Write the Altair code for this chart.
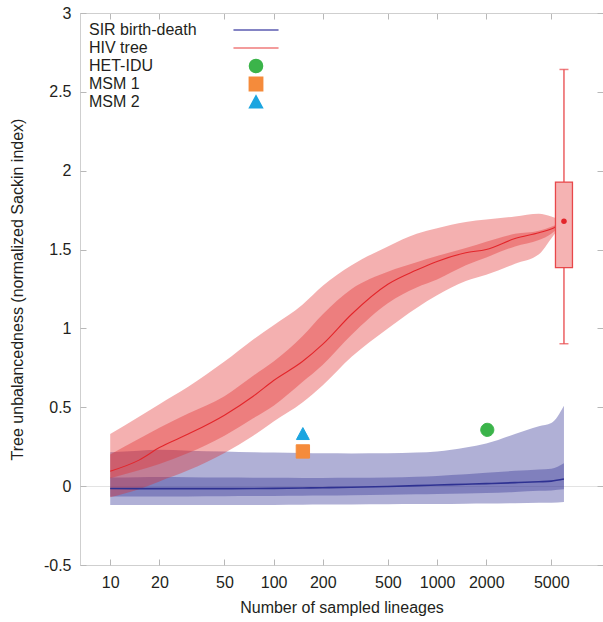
import altair as alt
import pandas as pd

# ---------------- data ----------------
lineages = [10, 15, 20, 30, 50, 75, 100, 150, 200, 300, 500, 750, 1000, 1500, 2000, 3000, 4200, 5000, 5980]

hiv_med = [0.095, 0.165, 0.245, 0.33, 0.45, 0.57, 0.67, 0.79, 0.90, 1.09, 1.28, 1.37, 1.425, 1.48, 1.50, 1.57, 1.607, 1.63, 1.68]
hiv_in_hi = [0.20, 0.30, 0.37, 0.46, 0.57, 0.70, 0.79, 0.95, 1.09, 1.25, 1.36, 1.42, 1.46, 1.51, 1.55, 1.60, 1.62, 1.645, 1.68]
hiv_in_lo = [0.05, 0.10, 0.14, 0.21, 0.32, 0.43, 0.51, 0.66, 0.77, 0.96, 1.16, 1.26, 1.31, 1.40, 1.45, 1.52, 1.56, 1.60, 1.68]
hiv_out_hi = [0.33, 0.44, 0.52, 0.63, 0.79, 0.93, 1.02, 1.15, 1.27, 1.40, 1.52, 1.60, 1.635, 1.675, 1.69, 1.71, 1.727, 1.71, 1.68]
hiv_out_lo = [-0.07, -0.02, 0.03, 0.10, 0.21, 0.32, 0.41, 0.53, 0.64, 0.82, 1.00, 1.13, 1.21, 1.30, 1.34, 1.41, 1.47, 1.57, 1.68]

sir_med = [-0.015, -0.016, -0.016, -0.016, -0.016, -0.015, -0.014, -0.012, -0.01, -0.007, -0.002, 0.003, 0.007, 0.012, 0.016, 0.022, 0.028, 0.032, 0.045]
sir_in_hi = [0.055, 0.057, 0.058, 0.057, 0.055, 0.054, 0.053, 0.052, 0.052, 0.053, 0.055, 0.06, 0.065, 0.075, 0.085, 0.097, 0.105, 0.11, 0.145]
sir_in_lo = [-0.065, -0.065, -0.065, -0.065, -0.064, -0.063, -0.062, -0.061, -0.06, -0.058, -0.055, -0.052, -0.05, -0.046, -0.043, -0.037, -0.03, -0.027, -0.02]
sir_out_hi = [0.215, 0.225, 0.23, 0.225, 0.22, 0.215, 0.213, 0.21, 0.208, 0.207, 0.208, 0.213, 0.22, 0.245, 0.27, 0.33, 0.38, 0.40, 0.51]
sir_out_lo = [-0.12, -0.12, -0.12, -0.12, -0.12, -0.12, -0.119, -0.118, -0.117, -0.116, -0.115, -0.114, -0.113, -0.111, -0.11, -0.108, -0.106, -0.105, -0.10]

box_n = [5980]
box_q1 = [1.385]
box_q3 = [1.928]
box_lo = [0.903]
box_hi = [2.642]
box_med = [1.68]

point_names = ["HET-IDU", "MSM 1", "MSM 2"]
point_n = [2030, 151, 151]
point_val = [0.357, 0.22, 0.332]

legend_names = ["SIR birth-death", "HIV tree", "HET-IDU", "MSM 1", "MSM 2"]
legend_fill = ["transparent", "transparent", "#3bb44a", "#f58b3b", "#1ca5e0"]
legend_stroke = ["#5b5bb0", "#ef7b7b", "#3bb44a", "#f58b3b", "#1ca5e0"]
# symbol outlines in Vega's unit symbol frame (scaled by sqrt(size)/2)
LINE_SYM = "M-0.98,0L0.98,0"
CIRCLE_SYM = "M0.285,0A0.285,0.285,0,1,1,-0.285,0A0.285,0.285,0,1,1,0.285,0Z"
SQUARE_SYM = "M-0.29,-0.29L0.29,-0.29L0.29,0.29L-0.29,0.29Z"
TRIANGLE_SYM = "M0,-0.27L-0.28,0.25L0.28,0.25Z"
legend_shape = [LINE_SYM, LINE_SYM, CIRCLE_SYM, SQUARE_SYM, TRIANGLE_SYM]

x_ticks = [10, 20, 50, 100, 200, 500, 1000, 2000, 5000]
y_ticks = [-0.5, 0, 0.5, 1, 1.5, 2, 2.5, 3]

# ---------------- tables ----------------
series = pd.DataFrame({
    "n": lineages,
    "hiv_med": hiv_med, "hiv_in_hi": hiv_in_hi, "hiv_in_lo": hiv_in_lo,
    "hiv_out_hi": hiv_out_hi, "hiv_out_lo": hiv_out_lo,
    "sir_med": sir_med, "sir_in_hi": sir_in_hi, "sir_in_lo": sir_in_lo,
    "sir_out_hi": sir_out_hi, "sir_out_lo": sir_out_lo,
})
box_df = pd.DataFrame({"n": box_n, "q1": box_q1, "q3": box_q3, "lo": box_lo, "hi": box_hi, "med": box_med})
pts_df = pd.DataFrame({"series": point_names, "n": point_n, "v": point_val})

# ---------------- styling ----------------
W, H = 523, 552
FONT = "Liberation Sans"
TXT = "#231f20"
TICK = "#b8b8b8"
FRAME = "#cfcfcf"
RED = "#e12a2a"
BLUE = "#393998"
RED_LINE = "#e3262b"
BLUE_LINE = "#2e3192"
BOX_STROKE = "#e8474a"
SYM_SIZE = 2116

xscale = alt.Scale(type="log", domain=[7.01, 9660], nice=False)
yscale = alt.Scale(domain=[-0.5, 3], nice=False, zero=False)

ax_bottom = alt.Axis(orient="bottom", values=x_ticks, format="d", ticks=False, tickSize=0,
                     domain=True, domainColor=FRAME, labelPadding=9, labelFontSize=16,
                     labelColor=TXT, labelFont=FONT, title="Number of sampled lineages",
                     titleFontSize=16, titleFontWeight="normal", titleColor=TXT, titleFont=FONT,
                     titlePadding=9, grid=False)
ax_bottom_in = alt.Axis(orient="top", offset=-H, values=x_ticks, labels=False, domain=False,
                        ticks=True, tickSize=6, tickColor=TICK, title=None, grid=False)
ax_top_in = alt.Axis(orient="bottom", offset=-H, values=x_ticks, labels=False, domain=True,
                     domainColor=FRAME, ticks=True, tickSize=6, tickColor=TICK, title=None, grid=False)

ax_left = alt.Axis(orient="left", values=y_ticks, labelExpr="toString(datum.value)", ticks=False,
                   tickSize=0, domain=True, domainColor=FRAME, labelPadding=9, labelFontSize=16,
                   labelColor=TXT, labelFont=FONT,
                   title="Tree unbalancedness (normalized Sackin index)", titleFontSize=16,
                   titleFontWeight="normal", titleColor=TXT, titleFont=FONT, titlePadding=18,
                   grid=True,
                   gridColor={"condition": {"test": "datum.value === 0", "value": "#e3e3e3"},
                              "value": "transparent"})
ax_left_in = alt.Axis(orient="right", offset=-W, values=y_ticks, labels=False, domain=False,
                      ticks=True, tickSize=6, tickColor=TICK, title=None, grid=False)
ax_right_in = alt.Axis(orient="left", offset=-W, values=y_ticks, labels=False, domain=True,
                       domainColor=FRAME, ticks=True, tickSize=6, tickColor=TICK, title=None, grid=False)

base = alt.Chart(series)

def xenc(axis=None):
    if axis is None:
        return alt.X("n:Q", scale=xscale, axis=None)
    return alt.X("n:Q", scale=xscale, axis=axis)

blue_out = base.mark_area(color=BLUE, opacity=0.4, interpolate="monotone").encode(
    x=xenc(ax_bottom), y=alt.Y("sir_out_lo:Q", scale=yscale, axis=ax_left), y2="sir_out_hi:Q")
blue_in = base.mark_area(color=BLUE, opacity=0.4, interpolate="monotone").encode(
    x=xenc(ax_bottom_in), y=alt.Y("sir_in_lo:Q", scale=yscale, axis=ax_left_in), y2="sir_in_hi:Q")
red_out = base.mark_area(color=RED, opacity=0.37, interpolate="monotone").encode(
    x=xenc(ax_top_in), y=alt.Y("hiv_out_lo:Q", scale=yscale, axis=ax_right_in), y2="hiv_out_hi:Q")
red_in = base.mark_area(color=RED, opacity=0.37, interpolate="monotone").encode(
    x=xenc(), y=alt.Y("hiv_in_lo:Q", scale=yscale, axis=None), y2="hiv_in_hi:Q")
sir_line = base.mark_line(color=BLUE_LINE, strokeWidth=1.6, interpolate="monotone").encode(
    x=xenc(), y=alt.Y("sir_med:Q", scale=yscale, axis=None))
hiv_line = base.mark_line(color=RED_LINE, strokeWidth=1.1, interpolate="monotone").encode(
    x=xenc(), y=alt.Y("hiv_med:Q", scale=yscale, axis=None))

bx = alt.Chart(box_df)
whisker = bx.mark_rule(color=BOX_STROKE, strokeWidth=1.3).encode(
    x=xenc(), y=alt.Y("lo:Q", scale=yscale, axis=None), y2="hi:Q")
box = bx.mark_bar(size=17, fill="#f5b3b3", stroke=BOX_STROKE, strokeWidth=1.3).encode(
    x=xenc(), y=alt.Y("q1:Q", scale=yscale, axis=None), y2="q3:Q")
caps = bx.transform_fold(["lo", "hi"], as_=["k", "val"]).mark_tick(
    orient="horizontal", size=9, thickness=1.5, color=BOX_STROKE).encode(
    x=xenc(), y=alt.Y("val:Q", scale=yscale, axis=None))
dot = bx.mark_circle(size=30, color=RED_LINE, opacity=1).encode(
    x=xenc(), y=alt.Y("med:Q", scale=yscale, axis=None))

# symbol legend (symbols only, on the right); reversed domain keeps it apart
# from the text legend, `values` restores the entry order.
rev_names = legend_names[::-1]
sym_leg = alt.Legend(orient="none", legendX=152, legendY=9, title=None, padding=0,
                     values=legend_names, labelExpr="' '", labelOffset=0, rowPadding=2,
                     clipHeight=16, labelFont=FONT, labelFontSize=16, symbolSize=SYM_SIZE,
                     symbolStrokeWidth=1.5, symbolOpacity=1)
txt_leg = alt.Legend(orient="none", legendX=-7, legendY=9, title=None, padding=0,
                     labelOffset=0, rowPadding=2, clipHeight=16, labelFont=FONT,
                     labelFontSize=16, labelColor=TXT,
                     symbolSize=0, symbolStrokeWidth=0, symbolOpacity=0)

pts = alt.Chart(pts_df).mark_point(filled=True, size=SYM_SIZE, strokeWidth=1).encode(
    x=xenc(), y=alt.Y("v:Q", scale=yscale, axis=None),
    fill=alt.Fill("series:N", scale=alt.Scale(domain=rev_names, range=legend_fill[::-1]), legend=sym_leg),
    stroke=alt.Stroke("series:N", scale=alt.Scale(domain=rev_names, range=legend_stroke[::-1]), legend=sym_leg),
    shape=alt.Shape("series:N", scale=alt.Scale(domain=rev_names, range=legend_shape[::-1]), legend=sym_leg),
    opacity=alt.Opacity("series:N", scale=alt.Scale(domain=legend_names, range=[1, 1, 1, 1, 1]), legend=txt_leg),
)

chart = alt.layer(
    blue_out, blue_in, red_out, red_in, sir_line, hiv_line, whisker, box, caps, dot, pts
).resolve_axis(x="independent", y="independent").properties(
    width=W, height=H,
    autosize=alt.AutoSizeParams(type="none"),
    padding={"left": 80, "top": 13, "right": 0, "bottom": 57},
).configure_view(stroke="transparent").configure(font=FONT)

chart.save("out.html", embed_options={"renderer": "svg", "actions": False})
